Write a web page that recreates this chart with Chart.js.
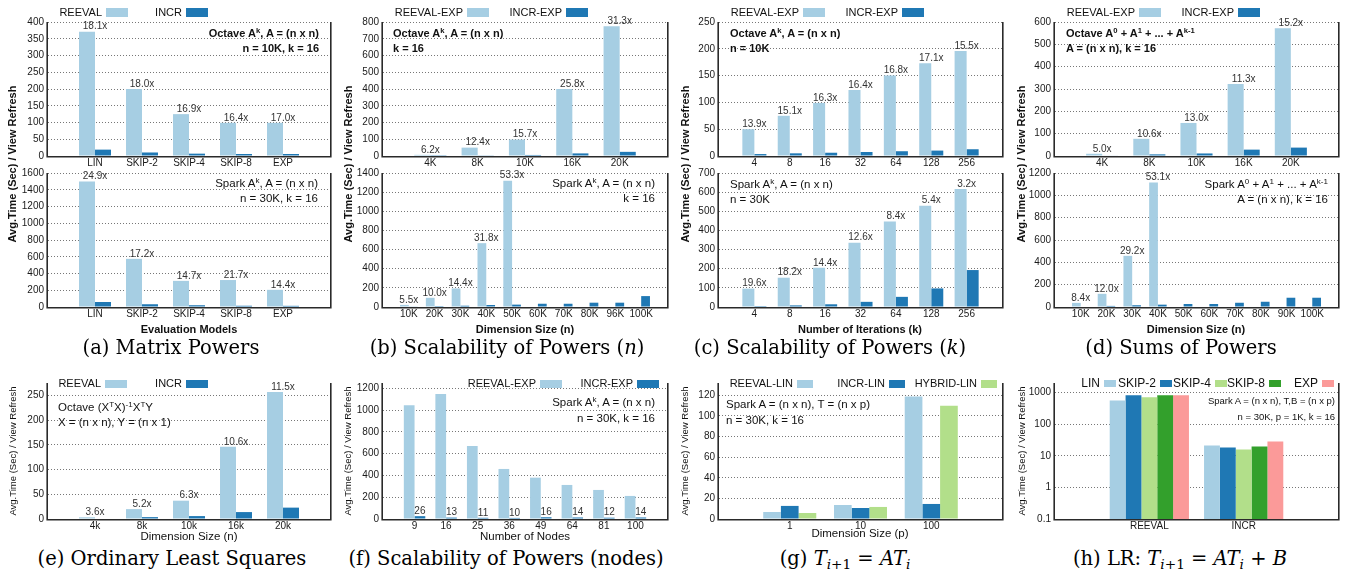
<!DOCTYPE html>
<html><head><meta charset="utf-8">
<script src="https://cdn.jsdelivr.net/npm/chart.js@4"></script>
<style>
html,body{margin:0;padding:0;}
body{width:1354px;height:574px;background:#fff;position:relative;overflow:hidden;font-family:"Liberation Sans",Arial,sans-serif;}
canvas{position:absolute;}
.t{position:absolute;white-space:nowrap;color:#111;line-height:1;}
.t sup{font-size:0.7em;position:relative;top:-0.5em;vertical-align:baseline;line-height:0;}
.t sub{font-size:0.7em;position:relative;top:0.3em;vertical-align:baseline;line-height:0;}
.cap{font-family:"DejaVu Serif","Liberation Serif",serif;color:#000;}
</style></head><body>
<script>
// ---------------- DATA ----------------
// (a) Matrix Powers
const modelLabels = ['LIN','SKIP-2','SKIP-4','SKIP-8','EXP'];
const octaveMatReeval = [371, 200, 125, 99, 99];
const octaveMatIncr = [19, 10.5, 7, 6, 6];
const octaveMatSpeedup = ['18.1x','18.0x','16.9x','16.4x','17.0x'];
const sparkMatReeval = [1500, 575, 312, 322, 205];
const sparkMatIncr = [60, 33, 21, 15, 14];
const sparkMatSpeedup = ['24.9x','17.2x','14.7x','21.7x','14.4x'];
// (b) Scalability of Powers (n)
const octaveSizeLabels = ['4K','8K','10K','16K','20K'];
const octaveSizeReeval = [7, 50, 98, 400, 775];
const octaveSizeIncr = [1.1, 4, 6.2, 15.5, 24.8];
const octaveSizeSpeedup = ['6.2x','12.4x','15.7x','25.8x','31.3x'];
const sparkSizeLabels = ['10K','20K','30K','40K','50K','60K','70K','80K','96K','100K'];
const sparkSizeReeval = [22, 96, 194, 667, 1320, null, null, null, null, null];
const sparkSizeIncr = [4, 9.6, 13.5, 21, 24.8, 34, 34, 45, 45, 114];
const sparkSizeSpeedup = ['5.5x','10.0x','14.4x','31.8x','53.3x', null, null, null, null, null];
// (c) Scalability of Powers (k)
const iterLabels = ['4','8','16','32','64','128','256'];
const octaveIterReeval = [50, 75, 99, 123, 150, 173, 196];
const octaveIterIncr = [3.6, 5, 6.1, 7.5, 8.9, 10.1, 12.6];
const octaveIterSpeedup = ['13.9x','15.1x','16.3x','16.4x','16.8x','17.1x','15.5x'];
const sparkIterReeval = [96, 153, 205, 336, 446, 529, 616];
const sparkIterIncr = [4.9, 8.4, 14.2, 27, 53, 97, 193];
const sparkIterSpeedup = ['19.6x','18.2x','14.4x','12.6x','8.4x','5.4x','3.2x'];
// (d) Sums of Powers
const octaveSumLabels = ['4K','8K','10K','16K','20K'];
const octaveSumReeval = [10, 77, 148, 322, 572];
const octaveSumIncr = [2, 7.3, 11.4, 28.5, 37.6];
const octaveSumSpeedup = ['5.0x','10.6x','13.0x','11.3x','15.2x'];
const sparkSumLabels = ['10K','20K','30K','40K','50K','60K','70K','80K','90K','100K'];
const sparkSumReeval = [37, 118, 458, 1115, null, null, null, null, null, null];
const sparkSumIncr = [4.4, 9.8, 15.7, 21, 27, 27, 38, 47, 83, 83];
const sparkSumSpeedup = ['8.4x','12.0x','29.2x','53.1x', null, null, null, null, null, null];
// (e) Ordinary Least Squares
const olsLabels = ['4k','8k','10k','16k','20k'];
const olsReeval = [3.5, 20, 37, 146, 257];
const olsIncr = [1, 3.8, 5.9, 14, 23];
const olsSpeedup = ['3.6x','5.2x','6.3x','10.6x','11.5x'];
// (f) Scalability of Powers (nodes)
const nodeLabels = ['9','16','25','36','49','64','81','100'];
const nodeReeval = [1045, 1150, 671, 460, 380, 313, 267, 212];
const nodeIncr = [26, 13, 11, 10, 16, 14, 12, 14];
const nodeIncrText = ['26','13','11','10','16','14','12','14'];
// (g) T_{i+1} = A T_i
const linLabels = ['1','10','100'];
const linReeval = [6.8, 13.6, 119];
const linIncr = [12.7, 10.7, 14.6];
const linHybrid = [5.8, 11.7, 110];
// (h) LR
const lrLabels = ['REEVAL','INCR'];
const lrLIN = [558, 21];
const lrSKIP2 = [824, 18.3];
const lrSKIP4 = [710, 15.8];
const lrSKIP8 = [824, 19.7];
const lrEXP = [824, 28.4];
const lrTicks = [0.1, 1, 10, 100, 1000];

// ---------------- STYLE ----------------
const F = '"Liberation Sans", Arial, sans-serif';
const C_LB = '#a6cee3', C_DB = '#1f78b4', C_LG = '#b2df8a', C_DG = '#33a02c', C_PK = '#fb9a99';

function pad(a){ return [null, ...a, null]; }

const framePlugin = {
  id: 'frame',
  afterDatasetsDraw(c){
    const a = c.chartArea, ctx = c.ctx;
    ctx.save();
    ctx.strokeStyle = '#2a2a2a'; ctx.lineWidth = 1.6; ctx.setLineDash([]);
    ctx.beginPath();
    ctx.moveTo(a.left - 0.8, a.top);
    ctx.lineTo(a.left - 0.8, a.bottom + 0.8);
    ctx.lineTo(a.right + 0.8, a.bottom + 0.8);
    ctx.lineTo(a.right + 0.8, a.top);
    ctx.stroke();
    ctx.restore();
  }
};
function legendPlugin(o){
  return { id: 'gLegend', afterDraw(c){
    if (!o) return;
    const ctx = c.ctx, a = c.chartArea;
    ctx.save();
    ctx.font = o.size + 'px ' + F;
    ctx.textAlign = 'right'; ctx.textBaseline = 'middle';
    c.data.datasets.forEach((d, i) => {
      const x = a.left + o.xs[i];
      ctx.fillStyle = '#111';
      ctx.fillText(d.label, x, o.y);
      ctx.fillStyle = d.backgroundColor;
      ctx.fillRect(x + o.gap, Math.round(o.y - o.bh / 2), o.bw, o.bh);
    });
    ctx.restore();
  }};
}
function labelPlugin(o){
  return { id: 'gLabels', afterDatasetsDraw(c){
    if (!o) return;
    const ctx = c.ctx, meta = c.getDatasetMeta(o.ds), xs = c.scales.x;
    ctx.save();
    ctx.font = o.size + 'px ' + F;
    ctx.fillStyle = '#333'; ctx.textAlign = 'center'; ctx.textBaseline = 'bottom';
    o.texts.forEach((t, i) => {
      if (t == null) return;
      const el = meta.data[i + 1];
      const x = o.onBar ? el.x : xs.getPixelForValue(i + 1);
      ctx.fillText(t, x, el.y);
    });
    ctx.restore();
  }};
}

function makeChart(p){
  const yW = 42, xH = 14, padR = 6;
  const cv = document.createElement('canvas');
  const left = p.plotL - yW, top = p.ct;
  const w = p.plotR - p.plotL + yW + padR;
  const h = p.plotB + xH - p.ct;
  cv.width = w; cv.height = h;
  cv.style.left = left + 'px'; cv.style.top = top + 'px';
  cv.style.width = w + 'px'; cv.style.height = h + 'px';
  document.body.appendChild(cv);
  const ts = p.tick || 10;
  const yScale = p.log ? {
    type: 'logarithmic', min: p.yMin, max: p.yMax,
    afterBuildTicks(s){ s.ticks = lrTicks.map(v => ({value: v})); },
    grid: {color: '#777', lineWidth: 1, drawTicks: false, borderDash: [1, 2]},
    border: {display: false, dash: [1, 2]},
    ticks: {padding: 4, color: '#1a1a1a', font: {family: F, size: ts}, callback: v => String(v)},
    afterFit(s){ s.width = yW; }
  } : {
    type: 'linear', min: p.yMin, max: p.yMax,
    grid: {color: '#777', lineWidth: 1, drawTicks: false, borderDash: [1, 2]},
    border: {display: false, dash: [1, 2]},
    ticks: {stepSize: p.step, includeBounds: false, padding: 4, color: '#1a1a1a', font: {family: F, size: ts}, callback: v => String(v)},
    afterFit(s){ s.width = yW; }
  };
  return new Chart(cv, {
    type: 'bar',
    data: {
      labels: pad(p.labels),
      datasets: p.series.map(s => ({
        label: s.label, data: pad(s.data), backgroundColor: s.color,
        borderWidth: 0, categoryPercentage: p.cat, barPercentage: 1
      }))
    },
    options: {
      responsive: false, animation: false, devicePixelRatio: 1,
      layout: {padding: {top: p.plotT - p.ct, right: padR, left: 0, bottom: 0}},
      plugins: {legend: {display: false}, tooltip: {enabled: false}},
      scales: {
        x: {
          type: 'category', offset: false,
          grid: {display: false, drawTicks: false}, border: {display: false},
          ticks: {autoSkip: false, maxRotation: 0, minRotation: 0, padding: 1, color: '#1a1a1a', font: {family: F, size: ts}},
          afterFit(s){ s.height = xH; }
        },
        y: yScale
      }
    },
    plugins: [framePlugin, legendPlugin(p.legend), labelPlugin(p.barLabels)]
  });
}

// layout constants
const COLS = [[48, 330], [383, 667], [719, 1002], [1055, 1338]];
const TOP1 = {ct: 0, plotT: 22, plotB: 156};
const TOP2 = {ct: 160, plotT: 173, plotB: 307};
const BOT = {ct: 360, plotT: 383, plotB: 519};
const LEG_TOP = (xs) => ({xs, y: 12.5, size: 11, gap: 4, bw: 22, bh: 9});
const LEG_BOT = (xs, bw, bh, size) => ({xs, y: 23.5, size: size || 11, gap: 4, bw: bw || 22, bh: bh || 8});

function panel(col, row, extra){
  return Object.assign({plotL: COLS[col][0], plotR: COLS[col][1]}, row, extra);
}

// (a)
makeChart(panel(0, TOP1, {labels: modelLabels, yMin: 0, yMax: 400, step: 50, cat: 0.68,
  series: [{label: 'REEVAL', data: octaveMatReeval, color: C_LB}, {label: 'INCR', data: octaveMatIncr, color: C_DB}],
  legend: LEG_TOP([54, 134]), barLabels: {ds: 0, texts: octaveMatSpeedup, size: 10}}));
makeChart(panel(0, TOP2, {labels: modelLabels, yMin: 0, yMax: 1600, step: 200, cat: 0.68,
  series: [{label: 'REEVAL', data: sparkMatReeval, color: C_LB}, {label: 'INCR', data: sparkMatIncr, color: C_DB}],
  barLabels: {ds: 0, texts: sparkMatSpeedup, size: 10}}));
// (b)
makeChart(panel(1, TOP1, {labels: octaveSizeLabels, yMin: 0, yMax: 800, step: 100, cat: 0.68,
  series: [{label: 'REEVAL-EXP', data: octaveSizeReeval, color: C_LB}, {label: 'INCR-EXP', data: octaveSizeIncr, color: C_DB}],
  legend: LEG_TOP([80, 179]), barLabels: {ds: 0, texts: octaveSizeSpeedup, size: 10}}));
makeChart(panel(1, TOP2, {labels: sparkSizeLabels, yMin: 0, yMax: 1400, step: 200, cat: 0.68,
  series: [{label: 'REEVAL-EXP', data: sparkSizeReeval, color: C_LB}, {label: 'INCR-EXP', data: sparkSizeIncr, color: C_DB}],
  barLabels: {ds: 0, texts: sparkSizeSpeedup, size: 10}}));
// (c)
makeChart(panel(2, TOP1, {labels: iterLabels, yMin: 0, yMax: 250, step: 50, cat: 0.68,
  series: [{label: 'REEVAL-EXP', data: octaveIterReeval, color: C_LB}, {label: 'INCR-EXP', data: octaveIterIncr, color: C_DB}],
  legend: LEG_TOP([80, 179]), barLabels: {ds: 0, texts: octaveIterSpeedup, size: 10}}));
makeChart(panel(2, TOP2, {labels: iterLabels, yMin: 0, yMax: 700, step: 100, cat: 0.68,
  series: [{label: 'REEVAL-EXP', data: sparkIterReeval, color: C_LB}, {label: 'INCR-EXP', data: sparkIterIncr, color: C_DB}],
  barLabels: {ds: 0, texts: sparkIterSpeedup, size: 10}}));
// (d)
makeChart(panel(3, TOP1, {labels: octaveSumLabels, yMin: 0, yMax: 600, step: 100, cat: 0.68,
  series: [{label: 'REEVAL-EXP', data: octaveSumReeval, color: C_LB}, {label: 'INCR-EXP', data: octaveSumIncr, color: C_DB}],
  legend: LEG_TOP([80, 179]), barLabels: {ds: 0, texts: octaveSumSpeedup, size: 10}}));
makeChart(panel(3, TOP2, {labels: sparkSumLabels, yMin: 0, yMax: 1200, step: 200, cat: 0.68,
  series: [{label: 'REEVAL-EXP', data: sparkSumReeval, color: C_LB}, {label: 'INCR-EXP', data: sparkSumIncr, color: C_DB}],
  barLabels: {ds: 0, texts: sparkSumSpeedup, size: 10}}));
// (e)
makeChart(panel(0, BOT, {labels: olsLabels, yMin: 0, yMax: 275, step: 50, cat: 0.68,
  series: [{label: 'REEVAL', data: olsReeval, color: C_LB}, {label: 'INCR', data: olsIncr, color: C_DB}],
  legend: LEG_BOT([53, 134]), barLabels: {ds: 0, texts: olsSpeedup, size: 10}}));
// (f)
makeChart(panel(1, BOT, {labels: nodeLabels, yMin: 0, yMax: 1250, step: 200, cat: 0.68,
  series: [{label: 'REEVAL-EXP', data: nodeReeval, color: C_LB}, {label: 'INCR-EXP', data: nodeIncr, color: C_DB}],
  legend: LEG_BOT([153, 250]), barLabels: {ds: 1, texts: nodeIncrText, size: 10, onBar: true}}));
// (g)
makeChart(panel(2, BOT, {labels: linLabels, yMin: 0, yMax: 132, step: 20, cat: 0.75,
  series: [{label: 'REEVAL-LIN', data: linReeval, color: C_LB}, {label: 'INCR-LIN', data: linIncr, color: C_DB}, {label: 'HYBRID-LIN', data: linHybrid, color: C_LG}],
  legend: LEG_BOT([74, 166, 258], 16, 8)}));
// (h)
makeChart(panel(3, BOT, {labels: lrLabels, log: true, yMin: 0.1, yMax: 2000, cat: 0.84,
  series: [{label: 'LIN', data: lrLIN, color: C_LB}, {label: 'SKIP-2', data: lrSKIP2, color: C_DB}, {label: 'SKIP-4', data: lrSKIP4, color: C_LG},
           {label: 'SKIP-8', data: lrSKIP8, color: C_DG}, {label: 'EXP', data: lrEXP, color: C_PK}],
  legend: LEG_BOT([45, 101, 156, 210, 263], 12, 7, 12)}));

// ---------------- TEXT ----------------
function addText(html, x, y, o){
  o = o || {};
  const d = document.createElement('div');
  d.className = 't' + (o.cls ? ' ' + o.cls : '');
  d.innerHTML = html;
  d.style.left = x + 'px'; d.style.top = y + 'px';
  d.style.fontSize = (o.s || 11) + 'px';
  if (o.b) d.style.fontWeight = 'bold';
  const tx = o.a === 'right' ? '-100%' : o.a === 'center' ? '-50%' : '0';
  d.style.transform = o.rot ? 'translate(-50%,-50%) rotate(-90deg)' : 'translate(' + tx + ',-50%)';
  document.body.appendChild(d);
}
const YT = 'Avg.Time (Sec) / View Refresh';
[12, 348, 685, 1021].forEach(x => addText(YT, x, 164, {s: 11, rot: true, b: true}));
[13, 348, 685, 1022].forEach(x => addText(YT, x, 451, {s: 9.5, rot: true}));

// x-axis titles
addText('Evaluation Models', 189, 329, {a: 'center', s: 11, b: true});
addText('Dimension Size (n)', 525, 329, {a: 'center', s: 11, b: true});
addText('Number of Iterations (k)', 860, 329, {a: 'center', s: 11, b: true});
addText('Dimension Size (n)', 1196, 329, {a: 'center', s: 11, b: true});
addText('Dimension Size (n)', 189, 537, {a: 'center', s: 11.5});
addText('Number of Nodes', 525, 537, {a: 'center', s: 11.5});
addText('Dimension Size (p)', 860, 534, {a: 'center', s: 11.5});

// annotations
const AK = 'A<sup>k</sup>, A = (n x n)';
const ASUM = 'A<sup>0</sup> + A<sup>1</sup> + ... + A<sup>k-1</sup>';
addText('Octave ' + AK, 319, 33, {a: 'right', b: true});
addText('n = 10K, k = 16', 319, 48, {a: 'right', b: true});
addText('Spark ' + AK, 318, 184, {a: 'right', s: 11.5});
addText('n = 30K, k = 16', 318, 199, {a: 'right', s: 11.5});
addText('Octave ' + AK, 393, 33, {b: true});
addText('k = 16', 393, 48, {b: true});
addText('Spark ' + AK, 655, 184, {a: 'right', s: 11.5});
addText('k = 16', 655, 199, {a: 'right', s: 11.5});
addText('Octave ' + AK, 730, 33, {b: true});
addText('n = 10K', 730, 48, {b: true});
addText('Spark ' + AK, 730, 185, {s: 11.5});
addText('n = 30K', 730, 200, {s: 11.5});
addText('Octave ' + ASUM, 1066, 33, {b: true});
addText('A = (n x n), k = 16', 1066, 48, {b: true});
addText('Spark ' + ASUM, 1328, 185, {a: 'right', s: 11.5});
addText('A = (n x n), k = 16', 1328, 200, {a: 'right', s: 11.5});
addText('Octave (X<sup>T</sup>X)<sup>-1</sup>X<sup>T</sup>Y', 58, 408, {s: 11.5});
addText('X = (n x n), Y = (n x 1)', 58, 423, {s: 11.5});
addText('Spark ' + AK, 655, 403, {a: 'right', s: 11.5});
addText('n = 30K, k = 16', 655, 419, {a: 'right', s: 11.5});
addText('Spark A = (n x n), T = (n x p)', 726, 405, {s: 11.5});
addText('n = 30K, k = 16', 726, 421, {s: 11.5});
addText('Spark A = (n x n), T,B = (n x p)', 1335, 401, {a: 'right', s: 9.5});
addText('n = 30K, p = 1K, k = 16', 1335, 417, {a: 'right', s: 9.5});

// captions
const CS = 19.5;
addText('(a) Matrix Powers', 171, 348, {a: 'center', s: CS, cls: 'cap'});
addText('(b) Scalability of Powers (<i>n</i>)', 507, 348, {a: 'center', s: CS, cls: 'cap'});
addText('(c) Scalability of Powers (<i>k</i>)', 830, 348, {a: 'center', s: CS, cls: 'cap'});
addText('(d) Sums of Powers', 1181, 348, {a: 'center', s: CS, cls: 'cap'});
addText('(e) Ordinary Least Squares', 172, 559, {a: 'center', s: CS, cls: 'cap'});
addText('(f) Scalability of Powers (nodes)', 506, 559, {a: 'center', s: CS, cls: 'cap'});
addText('(g) <i>T</i><sub><i>i</i>+1</sub> = <i>AT</i><sub><i>i</i></sub>', 845, 559, {a: 'center', s: CS, cls: 'cap'});
addText('(h) LR: <i>T</i><sub><i>i</i>+1</sub> = <i>AT</i><sub><i>i</i></sub> + <i>B</i>', 1180, 559, {a: 'center', s: CS, cls: 'cap'});
</script>
</body></html>
